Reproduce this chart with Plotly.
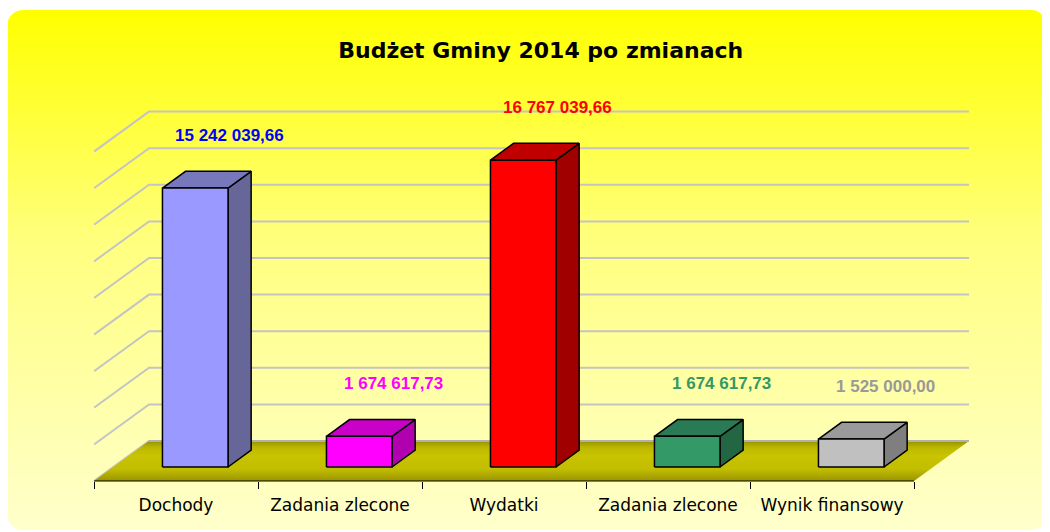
import base64
import plotly.graph_objects as go

# ---------------- data ----------------
categories = ["Dochody", "Zadania zlecone", "Wydatki", "Zadania zlecone", "Wynik finansowy"]
values = [15242039.66, 1674617.73, 16767039.66, 1674617.73, 1525000.00]
value_labels = ["15 242 039,66", "1 674 617,73", "16 767 039,66", "1 674 617,73", "1 525 000,00"]
grid_values = [0, 2e6, 4e6, 6e6, 8e6, 10e6, 12e6, 14e6, 16e6, 18e6]
title_text = "Budżet Gminy 2014 po zmianach"

# ---------------- styles ----------------
front_colors = ["#9999FF", "#FF00FF", "#FF0000", "#339966", "#C0C0C0"]
side_colors = ["#666699", "#B000B0", "#A00000", "#226644", "#7F7F7F"]
top_colors = ["#7777BB", "#C800C8", "#C00000", "#2A7A55", "#9A9A9A"]
label_colors = ["#0000FF", "#FF00FF", "#FF0000", "#339966", "#999999"]

OFF = 8                      # page body margin of the html page
W, H = 1050 - OFF, 532 - OFF
L, T = 94 - OFF, 60 - OFF
R, B = 81, 51
plot_w = W - L - R
plot_h = H - T - B
depth_px_x, depth_px_y = 55, 40
n = len(categories)
ppu = (plot_w - depth_px_x) / n          # px per category unit
DX = depth_px_x / ppu                     # depth in x units
px_per_val = 18.3 / 1e6                   # px per value unit
DY = depth_px_y / px_per_val              # depth in y units
y_max = plot_h / px_per_val

d0 = 0.35      # depth of bar front face
bd = 0.42      # bar depth fraction
bw = 0.40      # bar width (category units)

fig = go.Figure()

# back wall + side wall gridlines
for gv in grid_values:
    fig.add_trace(go.Scatter(
        x=[-0.5, -0.5 + DX, n - 0.5 + DX],
        y=[gv, gv + DY, gv + DY],
        mode="lines", line=dict(color="#C4C4C4", width=2),
        hoverinfo="skip", showlegend=False))

# floor
fig.add_trace(go.Scatter(
    x=[-0.5, n - 0.5, n - 0.5 + DX, -0.5 + DX, -0.5],
    y=[0, 0, DY, DY, 0],
    mode="lines", line=dict(width=0), fill="toself",
    fillgradient=dict(type="vertical",
                      colorscale=[[0, "#9A9400"], [0.3, "#C2BE00"], [0.65, "#C8C400"],
                                  [0.85, "#BAB600"], [1, "#969000"]]),
    hoverinfo="skip", showlegend=False))
# floor back edge line
fig.add_trace(go.Scatter(
    x=[-0.5 + DX, n - 0.5 + DX], y=[DY, DY],
    mode="lines", line=dict(color="#B0B0B0", width=2),
    hoverinfo="skip", showlegend=False))

# 3D bars
for i, v in enumerate(values):
    xl = i + d0 * DX - bw / 2
    xr = xl + bw
    yb = d0 * DY
    yt = v + d0 * DY
    bdx = bd * DX
    bdy = bd * DY
    outline = dict(color="black", width=1.5)
    # side
    fig.add_trace(go.Scatter(
        x=[xr, xr + bdx, xr + bdx, xr, xr],
        y=[yb, yb + bdy, yt + bdy, yt, yb],
        mode="lines", line=outline, fill="toself", fillcolor=side_colors[i],
        hoverinfo="skip", showlegend=False))
    # top
    fig.add_trace(go.Scatter(
        x=[xl, xl + bdx, xr + bdx, xr, xl],
        y=[yt, yt + bdy, yt + bdy, yt, yt],
        mode="lines", line=outline, fill="toself", fillcolor=top_colors[i],
        hoverinfo="skip", showlegend=False))
    # front
    fig.add_trace(go.Scatter(
        x=[xl, xr, xr, xl, xl],
        y=[yb, yb, yt, yt, yb],
        mode="lines", line=outline, fill="toself", fillcolor=front_colors[i],
        hoverinfo="skip", showlegend=False))
    # value label
    fig.add_annotation(
        x=i + d0 * DX + 0.21, y=yt + bdy, yshift=36,
        text=value_labels[i], showarrow=False,
        font=dict(family="Liberation Sans, Arial", size=17, color=label_colors[i], weight="bold"),
        xanchor="center", yanchor="middle")

# x axis line (front edge of floor)
fig.add_shape(type="line", xref="x", yref="paper",
              x0=-0.5, x1=n - 0.5, y0=0, y1=0,
              line=dict(color="black", width=1.2))

# background (rounded rect with vertical gradient)
svg = f'''<svg xmlns="http://www.w3.org/2000/svg" width="{W}" height="{H}" viewBox="0 0 {W} {H}" preserveAspectRatio="none">
<defs><linearGradient id="g" x1="0" y1="0" x2="0" y2="1">
<stop offset="0" stop-color="#FFFF00"/>
<stop offset="0.45" stop-color="#FFFF80"/>
<stop offset="1" stop-color="#FFFFCC"/>
</linearGradient></defs>
<rect x="{7 - OFF}" y="{10 - OFF}" width="1040" height="520" rx="16" ry="16" fill="url(#g)"/>
</svg>'''
src = "data:image/svg+xml;base64," + base64.b64encode(svg.encode()).decode()
fig.add_layout_image(dict(
    source=src, xref="paper", yref="paper",
    x=-L / plot_w, y=1 + T / plot_h,
    sizex=W / plot_w, sizey=H / plot_h,
    xanchor="left", yanchor="top", sizing="stretch", layer="below"))

fig.update_layout(
    width=W, height=H,
    margin=dict(l=L, r=R, t=T, b=B, pad=0),
    template="none",
    paper_bgcolor="white",
    plot_bgcolor="rgba(0,0,0,0)",
    showlegend=False,
    title=dict(text=title_text, x=(540 - OFF) / W, xanchor="center", xref="paper",
               y=1 - (50 - OFF) / H, yanchor="middle", yref="container",
               font=dict(family="DejaVu Sans", size=22, color="black", weight="bold")),
    xaxis=dict(range=[-0.5, n - 0.5 + DX], tickmode="array",
               tickvals=list(range(n)), ticktext=categories,
               ticks="", showgrid=False, zeroline=False, showline=False,
               ticklabelstandoff=12,
               tickfont=dict(family="DejaVu Sans", size=17, color="black"),
               minor=dict(tickmode="array", tickvals=[k - 0.5 for k in range(n + 1)],
                          ticks="outside", ticklen=7, tickwidth=1.2, tickcolor="black",
                          showgrid=False),
               fixedrange=True),
    yaxis=dict(range=[0, y_max], visible=False, showgrid=False, zeroline=False, fixedrange=True),
)

fig.write_html("out.html")
